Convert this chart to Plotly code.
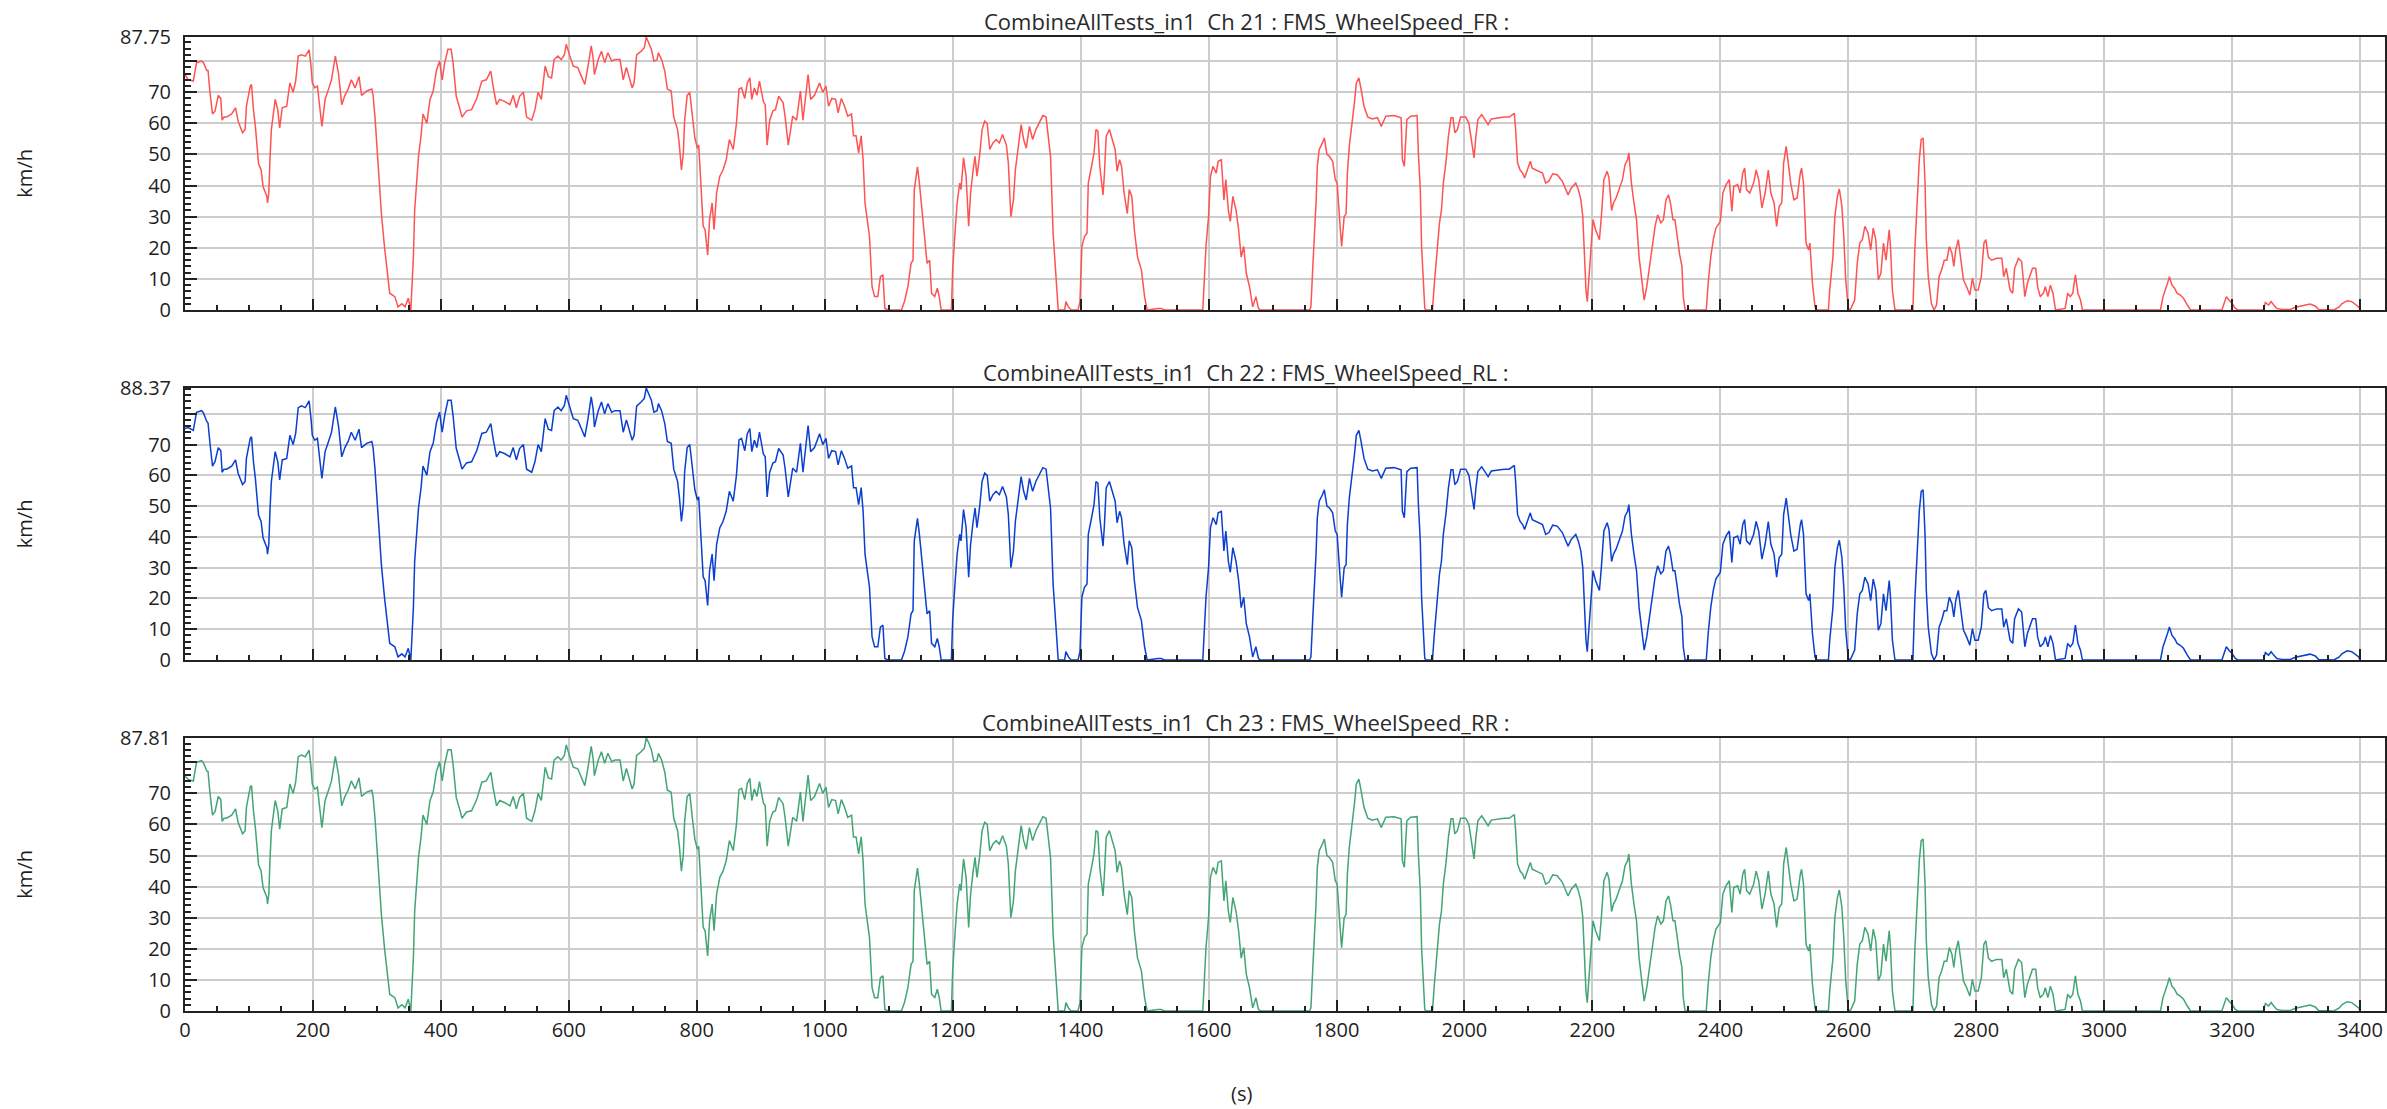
import plotly.graph_objects as go

# ---- data (time in s, wheel speed in km/h) ----
T = [0,5,13,18,26,29,34,36,39,43,47,52,56,58,61,65,73,79,83,90,94,96,102,104,107,110,115,119,122,128,129,131,133,135,141,145,148,152,159,164,169,173,177,182,188,194,197,199,203,207,214,219,225,229,235,240,245,250,255,260,266,272,276,284,292,294,297,301,307,312,317,320,328,333,339,344,349,353,357,359,365,369,372,378,383,388,393,398,402,406,411,416,419,424,430,433,440,448,456,464,471,478,482,487,492,500,508,513,518,523,529,534,542,547,552,557,563,568,573,577,
583,588,593,596,601,607,614,620,625,630,635,638,640,646,651,656,661,667,672,680,685,690,695,699,702,706,713,718,721,725,729,733,738,740,745,750,754,760,764,770,773,776,779,781,785,789,793,797,801,803,806,810,813,817,820,824,827,831,836,841,846,851,857,862,866,870,875,879,883,886,890,894,898,904,907,910,914,919,923,928,935,938,943,947,950,956,960,962,966,970,974,978,984,992,997,1002,1006,1011,1017,1021,1026,1031,1036,1042,1045,1049,1053,1057,1060,1063,1067,1070,1074,1078,1083,1087,1091,1094,1099,1120,1125,1130,1135,1138,1140,1145,1148,1152,1156,
1160,1164,1167,1172,1176,1179,1182,1198,1200,1204,1207,1211,1213,1217,1221,1225,1228,1232,1235,1238,1242,1246,1250,1254,1258,1263,1268,1273,1278,1284,1287,1291,1295,1298,1302,1307,1311,1315,1320,1325,1330,1336,1341,1346,1350,1353,1357,1360,1363,1365,1375,1377,1381,1385,1396,1399,1402,1406,1410,1412,1416,1421,1424,1427,1430,1435,1437,1440,1445,1450,1454,1457,1461,1464,1468,1473,1476,1480,1484,1489,1495,1500,1504,1521,1526,1531,1591,1596,1600,1603,1607,1612,1615,1620,1624,1627,1631,1634,1638,1643,1647,1651,1655,1659,1664,1669,1674,1678,1681,
1758,1760,1763,1766,1768,1770,1773,1778,1781,1785,1789,1794,1798,1801,1803,1806,1808,1812,1815,1817,1820,1824,1828,1831,1835,1838,1843,1849,1856,1864,1870,1877,1890,1901,1903,1906,1910,1916,1926,1928,1931,1933,1936,1938,1940,1950,1953,1957,1961,1964,1967,1971,1975,1979,1982,1985,1989,1994,2002,2007,2011,2015,2018,2021,2027,2032,2037,2042,2052,2062,2070,2078,2080,2083,2087,2091,2094,2099,2103,2106,2112,2117,2122,2127,2132,2138,2145,2153,2158,2162,2167,2174,2178,2182,2185,2187,2190,2192,2195,2198,2201,2205,2211,2214,2218,2223,2226,2230,2233,2237,2242,2247,2251,2255,2257,2261,2265,2269,2273,2277,2281,2285,2289,2294,2298,2302,2307,2311,
2315,2319,2322,2326,2329,2332,2336,2340,2342,2345,2378,2381,2385,2389,2393,2400,2404,2409,2414,2418,2421,2427,2431,2435,2438,2441,2446,2452,2456,2460,2465,2470,2475,2479,2484,2488,2492,2496,2499,2503,2506,2510,2515,2520,2525,2527,2530,2534,2538,2540,2544,2548,2551,2569,2571,2576,2579,2583,2586,2590,2593,2596,2600,2603,2610,2614,2618,2622,2626,2631,2635,2639,2643,2647,2651,2655,2659,2664,2666,2669,2673,2701,2704,2708,2711,2714,2717,2720,2722,2725,2730,2734,2738,2742,2746,2750,2754,2758,2762,2765,2768,2772,2776,2780,2785,2790,2794,2798,2803,2808,2812,2815,2819,2824,2832,2840,2843,2847,2853,2857,2860,2866,2871,2876,2880,2884,2888,
2893,2896,2900,2905,2908,2912,2916,2920,2924,2939,2943,2947,2951,2955,2959,2963,2966,3088,3092,3096,3099,3102,3106,3110,3114,3119,3124,3130,3135,3184,3188,3191,3195,3200,3205,3209,3249,3252,3257,3261,3265,3270,3278,3291,3299,3307,3314,3322,3330,3335,3359,3367,3372,3380,3387,3393,3398,3400]

FR = [75.7,74,73.6,79.5,80,79.5,77,77,70,63,64,69,68,61,62,62,63,65,60.7,57,58,65.5,72,72.5,64.4,59,47,45,39.7,36.5,34.4,37.6,49.4,58,67.7,64.4,58.5,65,65.5,73,70,73.6,81.6,82,81.6,83.6,78.4,73,71.4,72,59,67.7,71.4,74,81.6,76,66,69,71,74,71.4,75,69,70.4,71,69,62,49.4,31,20,10.7,5.4,4.3,1,2,1,3.8,0,17,32,49.4,56,63,60,67.7,70.4,77,80,74,79.5,83.8,83.8,79.5,68.7,64.4,62,64,64.4,68,73.6,74,76.8,71.4,66,67.7,67,66,69,65,68.7,70,62,61,64.4,70,67.7,78.4,75,74.6,80.5,
81.6,80.5,82,85.4,82,78.4,77.9,75,72.5,78.4,84.9,81,75.7,80.5,83.2,79.5,82.7,80,80.5,80.5,74,78,74,71.4,73,82,83.2,84.3,87.75,86,83.8,80,80.5,82.7,80.5,76.8,71,70.4,62,58,52.6,45,50.5,61,69,70,62.3,55.3,52,53,42,27,25.8,17.7,29,34.4,25.8,37.6,43,45,48.3,54.8,51.6,60,71,71.4,68,73,74.6,67.7,71.4,69,73.6,67,66,53,61,64,64.4,68.7,66.6,62.3,53,58,62.3,61,66.6,70.4,61,68,75.7,67.7,69,73,70,72,65.5,68,67.7,63.4,68,65.5,62.3,63,56,56,50.5,56,48.3,34.4,29,23.6,7.5,4.3,4.3,10.7,11.3,0.5,0,0,3,7.5,15,16,38.7,46,40.8,32,25,
15,16,5.4,4.3,7,4.3,0,0,13,25.8,34.4,40.8,38.7,48.9,43,26.9,37.6,45,49.4,43,49.4,58,60.7,60,51.6,53.7,54.8,53.7,56.4,53,47.3,30,35.4,45,51.6,59.6,54.8,52,59,54.8,58,60.7,62.5,62,53.7,49.4,24.7,15,3.2,0,0,2.7,1,0,0,2.7,20.4,23.6,24.7,40.8,45,50.5,58,57.5,46.2,37,43,55.9,58,54.8,51.6,44.6,48.3,46.2,37.6,31,38.7,36.5,25.8,17,12.9,4.3,0,0.5,0.5,0,0,20.4,30,43,46.2,44,47.8,48.3,35.4,41.9,32,28.5,36.5,32,25.8,17,20.4,11.8,7.5,1,4.3,0.5,0,
0,1,14,25.8,34.4,46.2,51.6,53.7,55.3,50,49.4,47.8,42,40.8,33.3,25.8,20.4,30,31,44,52.6,59,66.6,73,74.6,71.4,65.5,62,61.4,61.8,59,62.3,62.5,61.8,48.3,46.2,61.2,62.3,62.5,50.5,38.7,20.4,8.6,0.5,0,0,8.6,19.3,28,32,40.8,47.3,56,61.8,61.8,57,58,62,62,60,54.8,48.9,56,61.2,62.8,61.4,59.6,61.4,61.8,62,62,63.2,58,47.3,45,44,42.4,45.6,47.8,45.6,45,44.6,44,40.8,41.4,43.8,43.5,41.4,38.7,37,39.2,40.8,38.7,35.4,30,20.4,6.4,2.7,10.7,20.4,29,25.8,22.6,30,41.9,44.6,42.4,32,34.4,36,38.7,41.9,46.7,48.3,50.5,40.8,34.4,29,17,9.7,3.2,7.5,13.4,20.4,26.9,30.6,28,29,
35.4,37,34.4,29,29,24.7,18.3,14,4.3,0,0,8.6,17,22.6,26.3,28.5,37.6,40.3,41.9,31.7,39.7,40.3,37.6,44,45.6,38.7,37.6,40.8,45,41.9,32.8,37.6,45,37.6,34.4,26.9,33.3,34.4,47.3,52.6,47.8,40.8,35.4,36,44,45.6,40.8,21.5,19.3,21.5,8.6,1,0,0,6.4,17,30,36.5,38.9,33.3,23.6,9.7,0.5,0,3.2,15,21.5,22.6,26.9,24.7,19.3,26.3,22.6,9.7,11.8,21.5,16,25.8,20.4,6.4,0,0,19.3,38.7,48.3,54.8,55.3,40.8,22.6,10.7,2.1,0,1.6,10.7,12.9,16,16,20.4,18.3,14,19.3,22.6,16,9.7,7.5,4.8,10.2,6.4,6.4,10.7,21.5,22.6,17,16,16.6,16.6,10.7,13.4,6.4,5.4,13.4,16.6,15.6,4.3,8.6,11.3,13.4,
13.4,7.5,4.3,5.4,7.5,4.3,8,5.4,0,0.5,5.4,4.3,5.4,11.3,5.4,3.2,0,0,4.3,6.4,8.6,10.7,8,7,5.4,4.8,3.8,1.6,0,0,2.7,4.3,3.2,2.1,0.5,0,0,2.4,1.6,2.7,1.6,0.5,0.2,0.2,0.9,1.3,1.6,1.9,1.3,0.2,0,0.9,2.1,3,2.7,1.6,1,0]

RL = [75.2,75.5,74.6,80.5,81,80.2,77.5,77,70.5,63,64.5,69,68,61,62,62,63,65,60.7,57,58,65.5,72,72.5,64.4,59,47,45,39.7,36.5,34.4,37.6,49.4,58,67.7,64.4,58.5,65,65.5,73,70,73.6,82,82.6,82,84.2,78.4,73,71.4,72,59,67.7,71.4,74,82.2,76,66,69,71,74,71.4,75,69,70.4,71,69,62,49.4,31,20,10.7,5.4,4.3,1,2,1,3.8,0,17,32,49.4,56,63,60,67.7,70.4,77,80.5,74,79.5,84.4,84.4,79.5,68.7,64.4,62,64,64.4,68,73.6,74,76.8,71.4,66,67.7,67,66,69,65,68.7,70,62,61,64.4,70,67.7,78.4,75,74.6,81,
82.2,81,82.6,86,82.5,78.4,77.9,75,72.5,78.4,85.5,81.5,75.7,81,83.8,80,83.3,80.5,81,81,74,78,74,71.4,73,82.5,83.8,85,88.37,86.6,84.4,80.5,81,83.3,81,76.8,71,70.4,62,58,52.6,45,50.5,61,69,70,62.3,55.3,52,53,42,27,25.8,17.7,29,34.4,25.8,37.6,43,45,48.3,54.8,51.6,60,71.5,72,68,73.5,75.2,67.7,71.4,69,74,67,66,53,61,64,64.4,68.7,66.6,62.3,53,58,62.3,61,66.6,70.4,61,68,76.2,67.7,69,73.5,70,72,65.5,68,67.7,63.4,68,65.5,62.3,63,56,56,50.5,56,48.3,34.4,29,23.6,7.5,4.3,4.3,10.7,11.3,0.5,0,0,3,7.5,15,16,38.7,46,40.8,32,25,
15,16,5.4,4.3,7,4.3,0,0,13,25.8,34.4,40.8,38.7,48.9,43,26.9,37.6,45,49.4,43,49.4,58,60.7,60,51.6,53.7,54.8,53.7,56.4,53,47.3,30,35.4,45,51.6,59.6,54.8,52,59,54.8,58,60.7,62.5,62,53.7,49.4,24.7,15,3.2,0,0,2.7,1,0,0,2.7,20.4,23.6,24.7,40.8,45,50.5,58,57.5,46.2,37,43,55.9,58,54.8,51.6,44.6,48.3,46.2,37.6,31,38.7,36.5,25.8,17,12.9,4.3,0,0.5,0.5,0,0,20.4,30,43,46.2,44,47.8,48.3,35.4,41.9,32,28.5,36.5,32,25.8,17,20.4,11.8,7.5,1,4.3,0.5,0,
0,1,14,25.8,34.4,46.2,51.6,53.7,55.3,50,49.4,47.8,42,40.8,33.3,25.8,20.4,30,31,44,52.6,59,66.6,73,74.6,71.4,65.5,62,61.4,61.8,59,62.3,62.5,61.8,48.3,46.2,61.2,62.3,62.5,50.5,38.7,20.4,8.6,0.5,0,0,8.6,19.3,28,32,40.8,47.3,56,61.8,61.8,57,58,62,62,60,54.8,48.9,56,61.2,62.8,61.4,59.6,61.4,61.8,62,62,63.2,58,47.3,45,44,42.4,45.6,47.8,45.6,45,44.6,44,40.8,41.4,43.8,43.5,41.4,38.7,37,39.2,40.8,38.7,35.4,30,20.4,6.4,2.7,10.7,20.4,29,25.8,22.6,30,41.9,44.6,42.4,32,34.4,36,38.7,41.9,46.7,48.3,50.5,40.8,34.4,29,17,9.7,3.2,7.5,13.4,20.4,26.9,30.6,28,29,
35.4,37,34.4,29,29,24.7,18.3,14,4.3,0,0,8.6,17,22.6,26.3,28.5,37.6,40.3,41.9,31.7,39.7,40.3,37.6,44,45.6,38.7,37.6,40.8,45,41.9,32.8,37.6,45,37.6,34.4,26.9,33.3,34.4,47.3,52.6,47.8,40.8,35.4,36,44,45.6,40.8,21.5,19.3,21.5,8.6,1,0,0,6.4,17,30,36.5,38.9,33.3,23.6,9.7,0.5,0,3.2,15,21.5,22.6,26.9,24.7,19.3,26.3,22.6,9.7,11.8,21.5,16,25.8,20.4,6.4,0,0,19.3,38.7,48.3,54.8,55.3,40.8,22.6,10.7,2.1,0,1.6,10.7,12.9,16,16,20.4,18.3,14,19.3,22.6,16,9.7,7.5,4.8,10.2,6.4,6.4,10.7,21.5,22.6,17,16,16.6,16.6,10.7,13.4,6.4,5.4,13.4,16.6,15.6,4.3,8.6,11.3,13.4,
13.4,7.5,4.3,5.4,7.5,4.3,8,5.4,0,0.5,5.4,4.3,5.4,11.3,5.4,3.2,0,0,4.3,6.4,8.6,10.7,8,7,5.4,4.8,3.8,1.6,0,0,2.7,4.3,3.2,2.1,0.5,0,0,2.4,1.6,2.7,1.6,0.5,0.2,0.2,0.9,1.3,1.6,1.9,1.3,0.2,0,0.9,2.1,3,2.7,1.6,1,0]

RR = [75.5,74.5,74,80,80.5,79.8,77.2,77,70.2,63,64.2,69,68,61,62,62,63,65,60.7,57,58,65.5,72,72.5,64.4,59,47,45,39.7,36.5,34.4,37.6,49.4,58,67.7,64.4,58.5,65,65.5,73,70,73.6,81.8,82.3,81.8,83.9,78.4,73,71.4,72,59,67.7,71.4,74,81.9,76,66,69,71,74,71.4,75,69,70.4,71,69,62,49.4,31,20,10.7,5.4,4.3,1,2,1,3.8,0,17,32,49.4,56,63,60,67.7,70.4,77,80.2,74,79.5,84,84,79.5,68.7,64.4,62,64,64.4,68,73.6,74,76.8,71.4,66,67.7,67,66,69,65,68.7,70,62,61,64.4,70,67.7,78.4,75,74.6,80.7,
81.8,80.7,82.2,85.6,82.2,78.4,77.9,75,72.5,78.4,85.1,81.2,75.7,80.7,83.4,79.7,82.9,80.2,80.7,80.7,74,78,74,71.4,73,82.2,83.4,84.5,87.81,86.2,84,80.2,80.7,82.9,80.7,76.8,71,70.4,62,58,52.6,45,50.5,61,69,70,62.3,55.3,52,53,42,27,25.8,17.7,29,34.4,25.8,37.6,43,45,48.3,54.8,51.6,60,71.2,71.6,68,73.2,74.8,67.7,71.4,69,73.8,67,66,53,61,64,64.4,68.7,66.6,62.3,53,58,62.3,61,66.6,70.4,61,68,75.9,67.7,69,73.2,70,72,65.5,68,67.7,63.4,68,65.5,62.3,63,56,56,50.5,56,48.3,34.4,29,23.6,7.5,4.3,4.3,10.7,11.3,0.5,0,0,3,7.5,15,16,38.7,46,40.8,32,25,
15,16,5.4,4.3,7,4.3,0,0,13,25.8,34.4,40.8,38.7,48.9,43,26.9,37.6,45,49.4,43,49.4,58,60.7,60,51.6,53.7,54.8,53.7,56.4,53,47.3,30,35.4,45,51.6,59.6,54.8,52,59,54.8,58,60.7,62.5,62,53.7,49.4,24.7,15,3.2,0,0,2.7,1,0,0,2.7,20.4,23.6,24.7,40.8,45,50.5,58,57.5,46.2,37,43,55.9,58,54.8,51.6,44.6,48.3,46.2,37.6,31,38.7,36.5,25.8,17,12.9,4.3,0,0.5,0.5,0,0,20.4,30,43,46.2,44,47.8,48.3,35.4,41.9,32,28.5,36.5,32,25.8,17,20.4,11.8,7.5,1,4.3,0.5,0,
0,1,14,25.8,34.4,46.2,51.6,53.7,55.3,50,49.4,47.8,42,40.8,33.3,25.8,20.4,30,31,44,52.6,59,66.6,73,74.6,71.4,65.5,62,61.4,61.8,59,62.3,62.5,61.8,48.3,46.2,61.2,62.3,62.5,50.5,38.7,20.4,8.6,0.5,0,0,8.6,19.3,28,32,40.8,47.3,56,61.8,61.8,57,58,62,62,60,54.8,48.9,56,61.2,62.8,61.4,59.6,61.4,61.8,62,62,63.2,58,47.3,45,44,42.4,45.6,47.8,45.6,45,44.6,44,40.8,41.4,43.8,43.5,41.4,38.7,37,39.2,40.8,38.7,35.4,30,20.4,6.4,2.7,10.7,20.4,29,25.8,22.6,30,41.9,44.6,42.4,32,34.4,36,38.7,41.9,46.7,48.3,50.5,40.8,34.4,29,17,9.7,3.2,7.5,13.4,20.4,26.9,30.6,28,29,
35.4,37,34.4,29,29,24.7,18.3,14,4.3,0,0,8.6,17,22.6,26.3,28.5,37.6,40.3,41.9,31.7,39.7,40.3,37.6,44,45.6,38.7,37.6,40.8,45,41.9,32.8,37.6,45,37.6,34.4,26.9,33.3,34.4,47.3,52.6,47.8,40.8,35.4,36,44,45.6,40.8,21.5,19.3,21.5,8.6,1,0,0,6.4,17,30,36.5,38.9,33.3,23.6,9.7,0.5,0,3.2,15,21.5,22.6,26.9,24.7,19.3,26.3,22.6,9.7,11.8,21.5,16,25.8,20.4,6.4,0,0,19.3,38.7,48.3,54.8,55.3,40.8,22.6,10.7,2.1,0,1.6,10.7,12.9,16,16,20.4,18.3,14,19.3,22.6,16,9.7,7.5,4.8,10.2,6.4,6.4,10.7,21.5,22.6,17,16,16.6,16.6,10.7,13.4,6.4,5.4,13.4,16.6,15.6,4.3,8.6,11.3,13.4,
13.4,7.5,4.3,5.4,7.5,4.3,8,5.4,0,0.5,5.4,4.3,5.4,11.3,5.4,3.2,0,0,4.3,6.4,8.6,10.7,8,7,5.4,4.8,3.8,1.6,0,0,2.7,4.3,3.2,2.1,0.5,0,0,2.4,1.6,2.7,1.6,0.5,0.2,0.2,0.9,1.3,1.6,1.9,1.3,0.2,0,0.9,2.1,3,2.7,1.6,1,0]

TITLES = ["CombineAllTests_in1\u00a0 Ch 21 : FMS_WheelSpeed_FR :",
          "CombineAllTests_in1\u00a0 Ch 22 : FMS_WheelSpeed_RL :",
          "CombineAllTests_in1\u00a0 Ch 23 : FMS_WheelSpeed_RR :"]
SERIES = [FR, RL, RR]
COLORS = ["#ff5252", "#0b3fd0", "#43a574"]
Y_UNIT = "km/h"
X_UNIT = "(s)"
X_MAX = 3439
Y_TICKS = [0, 10, 20, 30, 40, 50, 60, 70, 80]

# ---- layout geometry (pixels) ----
W, H = 2387, 1109
ML, MR, MT, MB = 185, 0, 37, 98
PW, PH = W - ML - MR, H - MT - MB
panels_px = [(37, 310), (388, 660), (738, 1011)]


def px_x(px):
    return (px - ML) / PW


def px_y(py):
    return (H - MB - py) / PH


FONT = "Open Sans"
TXT = "#1e1e1e"

fig = go.Figure()
annotations = []
for i, (vals, col, title) in enumerate(zip(SERIES, COLORS, TITLES)):
    n = i + 1
    xa = "x" if n == 1 else f"x{n}"
    ya = "y" if n == 1 else f"y{n}"
    fig.add_trace(go.Scatter(x=T, y=vals, mode="lines", xaxis=xa, yaxis=ya,
                             line=dict(color=col, width=1.5), showlegend=False))
    top, bot = panels_px[i]
    ymax = max(vals)
    tv = Y_TICKS + [ymax]
    tt = [str(v) if v != 80 else "" for v in Y_TICKS] + [f"{ymax:.2f}"]
    fig.layout[f"xaxis{'' if n == 1 else n}"] = dict(
        domain=[0, 1], anchor=ya, range=[0, X_MAX],
        tickmode="linear", tick0=0, dtick=200,
        ticks="inside", ticklen=11, tickwidth=2, tickcolor="#222",
        minor=dict(dtick=50, tick0=0, ticks="inside", ticklen=5, tickwidth=2,
                   tickcolor="#222", showgrid=False),
        showgrid=True, gridcolor="#cccccc", gridwidth=2,
        showline=True, linecolor="#222", linewidth=2, mirror=True,
        zeroline=False, showticklabels=(n == 3),
        tickfont=dict(family=FONT, size=20, color=TXT),
    )
    fig.layout[f"yaxis{'' if n == 1 else n}"] = dict(
        domain=[px_y(bot), px_y(top)], anchor=xa, range=[0, ymax],
        tickmode="array", tickvals=tv, ticktext=tt,
        ticks="inside", ticklen=12, tickwidth=2, tickcolor="#222",
        minor=dict(dtick=2, tick0=0, ticks="inside", ticklen=6, tickwidth=2,
                   tickcolor="#222", showgrid=False),
        showgrid=True, gridcolor="#cccccc", gridwidth=2,
        showline=True, linecolor="#222", linewidth=2, mirror=True,
        zeroline=False, ticklabelstandoff=8,
        tickfont=dict(family=FONT, size=20, color=TXT),
    )
    annotations.append(dict(text=title, x=px_x(1247), y=px_y(top - 16),
                            xref="paper", yref="paper", showarrow=False,
                            xanchor="center", yanchor="middle",
                            font=dict(family=FONT, size=22, color="#2a2a2a")))
    annotations.append(dict(text=Y_UNIT, x=px_x(24), y=px_y((top + bot) / 2),
                            xref="paper", yref="paper", showarrow=False,
                            textangle=-90, xanchor="center", yanchor="middle",
                            font=dict(family=FONT, size=20, color=TXT)))

annotations.append(dict(text=X_UNIT, x=px_x(1242), y=px_y(1093),
                        xref="paper", yref="paper", showarrow=False,
                        xanchor="center", yanchor="middle",
                        font=dict(family=FONT, size=20, color=TXT)))

fig.update_layout(width=W, height=H,
                  margin=dict(l=ML, r=MR, t=MT, b=MB, pad=0),
                  paper_bgcolor="white", plot_bgcolor="white",
                  annotations=annotations, hovermode=False)

fig.write_html("out.html", config={"displayModeBar": False},
               post_script="document.body.style.margin='0px';")
